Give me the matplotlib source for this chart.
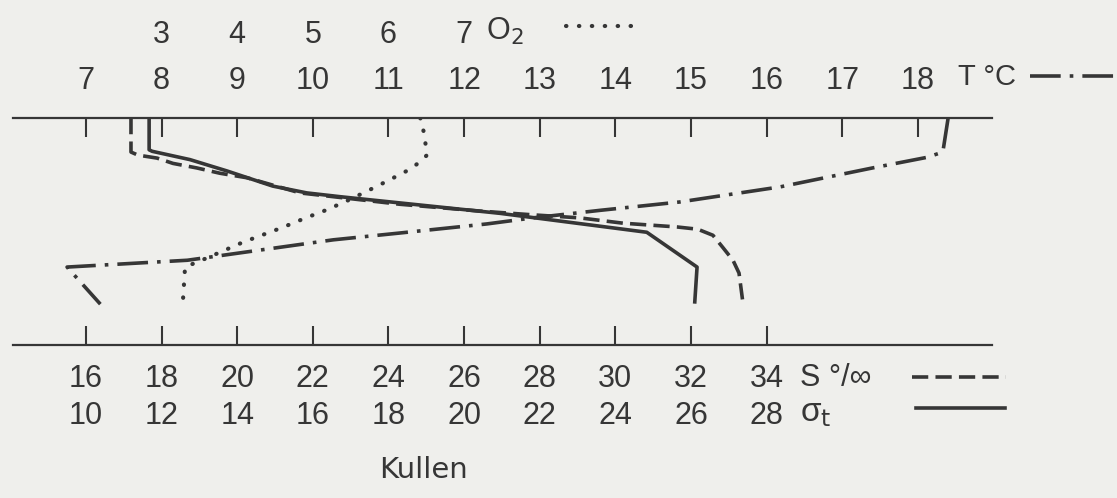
import matplotlib

matplotlib.use("Agg")
import matplotlib.pyplot as plt
from matplotlib.lines import Line2D

# Kullen profile. Depth in m, 0 = surface (top line).
sigma_depth = [0, 4.2, 4.4, 5.5, 7.0, 9.0, 9.9, 10.4, 12.6, 14.3, 15.1, 19.7, 24.3]
sigma_t = [11.67, 11.67, 11.75, 12.75, 13.73, 14.94, 15.84, 16.72, 20.95, 23.59, 24.83, 26.16, 26.10]

sal_depth = [0, 4.5, 4.9, 5.3, 6.0, 6.6, 7.3, 7.9, 9.9, 11.4, 12.3, 12.8, 13.2,
             13.9, 14.4, 14.7, 15.5, 17.1, 18.8, 20.5, 24.3]
salinity = [17.19, 17.19, 17.37, 17.88, 18.30, 18.93, 19.54, 20.26, 21.66, 24.30, 26.42,
            27.82, 29.06, 30.20, 31.63, 32.18, 32.58, 32.84, 33.11, 33.27, 33.37]

temp_depth = [0, 4.5, 5.2, 6.6, 9.1, 11.1, 12.2, 13.2, 14.0, 15.2, 16.1, 18.8, 19.7, 24.6]
temp = [18.40, 18.33, 18.12, 17.40, 16.18, 14.85, 13.80, 12.91, 12.30, 11.15, 10.27,
        8.34, 6.75, 7.19]

oxy_depth = [0, 2.0, 4.9, 6.0, 6.9, 8.3, 9.7, 11.1, 12.4, 13.1, 14.5, 16.4, 18.5, 19.7, 24.5]
oxygen = [6.42, 6.47, 6.51, 6.39, 6.26, 5.99, 5.71, 5.42, 5.12, 4.93, 4.59, 4.08,
          3.60, 3.31, 3.28]

temp_ticks = list(range(7, 19))
oxy_ticks = [3, 4, 5, 6, 7]
sal_ticks = list(range(16, 35, 2))
sigma_ticks = list(range(10, 29, 2))

INK = "#363636"
PAPER = "#efefec"
FONT = ["Liberation Sans", "DejaVu Sans"]
W, H = 1117, 498
FS = 22

DASHDOT = (0, (8.5, 2.5, 1, 2.5))
DOTTED = (0, (0.1, 3.0))
DASHED = (0, (4.5, 2))

plt.rcParams["font.family"] = FONT
plt.rcParams["mathtext.fontset"] = "dejavusans"


def fx(px):
    return px / W


def fy(py):
    return 1 - py / H


fig = plt.figure(figsize=(W / 100, H / 100), dpi=100, facecolor=PAPER)
ax = fig.add_axes([fx(13), fy(345), fx(992) - fx(13), fy(118) - fy(345)])
ax.set_facecolor(PAPER)

# all four scales share one pixel scale: O2 = T - 5, S = 2T + 2, sigma_t = 2T - 4
ax.set_xlim(6.035, 18.98)
ax.set_ylim(30, 0)

lw = 2.6
ax.plot(temp, temp_depth, color=INK, lw=lw, linestyle=DASHDOT)
ax.plot([o + 5 for o in oxygen], oxy_depth, color=INK, lw=3.0,
        linestyle=DOTTED, dash_capstyle="round")
ax.plot([(s - 2) / 2 for s in salinity], sal_depth, color=INK, lw=lw, linestyle=DASHED)
ax.plot([(s + 4) / 2 for s in sigma_t], sigma_depth, color=INK, lw=lw)

for side in ("left", "right"):
    ax.spines[side].set_visible(False)
for side in ("top", "bottom"):
    ax.spines[side].set_linewidth(1.6)
    ax.spines[side].set_color(INK)
ax.set_yticks([])

ax.set_xticks(temp_ticks)
ax.tick_params(axis="x", which="both", direction="in", top=True, bottom=False,
               labeltop=True, labelbottom=False, length=13.5, width=1.5,
               color=INK, labelcolor=INK, labelsize=FS, pad=16)

oxy_ax = ax.secondary_xaxis("top", functions=(lambda t: t - 5, lambda o: o + 5))
oxy_ax.set_xticks(oxy_ticks)
oxy_ax.spines["top"].set_visible(False)
oxy_ax.tick_params(length=0, labelsize=FS, labelcolor=INK, pad=49)

sal_ax = ax.secondary_xaxis("bottom", functions=(lambda t: 2 * t + 2, lambda s: (s - 2) / 2))
sal_ax.set_xticks(sal_ticks)
sal_ax.spines["bottom"].set_visible(False)
sal_ax.tick_params(direction="in", length=13.5, width=1.5, color=INK,
                   labelsize=FS, labelcolor=INK, pad=14)

sig_ax = ax.secondary_xaxis("bottom", functions=(lambda t: 2 * t - 4, lambda s: (s + 4) / 2))
sig_ax.set_xticks(sigma_ticks)
sig_ax.spines["bottom"].set_visible(False)
sig_ax.tick_params(length=0, labelsize=FS, labelcolor=INK, pad=40)

# scale names with their line keys
fig.text(fx(958), fy(77), "T °C", fontsize=21, color=INK, va="center")
fig.text(fx(486), fy(31), "O$_2$", fontsize=FS, color=INK, va="center")
fig.text(fx(800), fy(378), "S °/∞", fontsize=FS, color=INK, va="center")
fig.text(fx(800), fy(413), r"σ$_\mathrm{t}$", fontsize=24, color=INK, va="center")
fig.text(fx(424), fy(470), "Kullen", fontsize=21, color=INK, va="center", ha="center",
         family="DejaVu Sans")

keys = [
    ((1030, 1117), 76, DASHDOT, "butt", 2.6),
    ((566, 640), 26, DOTTED, "round", 3.0),
    ((912, 1006), 377, DASHED, "butt", 2.6),
    ((916, 1005), 408, "-", "butt", 2.6),
]
for (x0, x1), y, ls, cap, w in keys:
    fig.add_artist(Line2D([fx(x0), fx(x1)], [fy(y), fy(y)], transform=fig.transFigure,
                          color=INK, lw=w, linestyle=ls, dash_capstyle=cap))

fig.savefig("out.png", dpi=100, facecolor=PAPER)
